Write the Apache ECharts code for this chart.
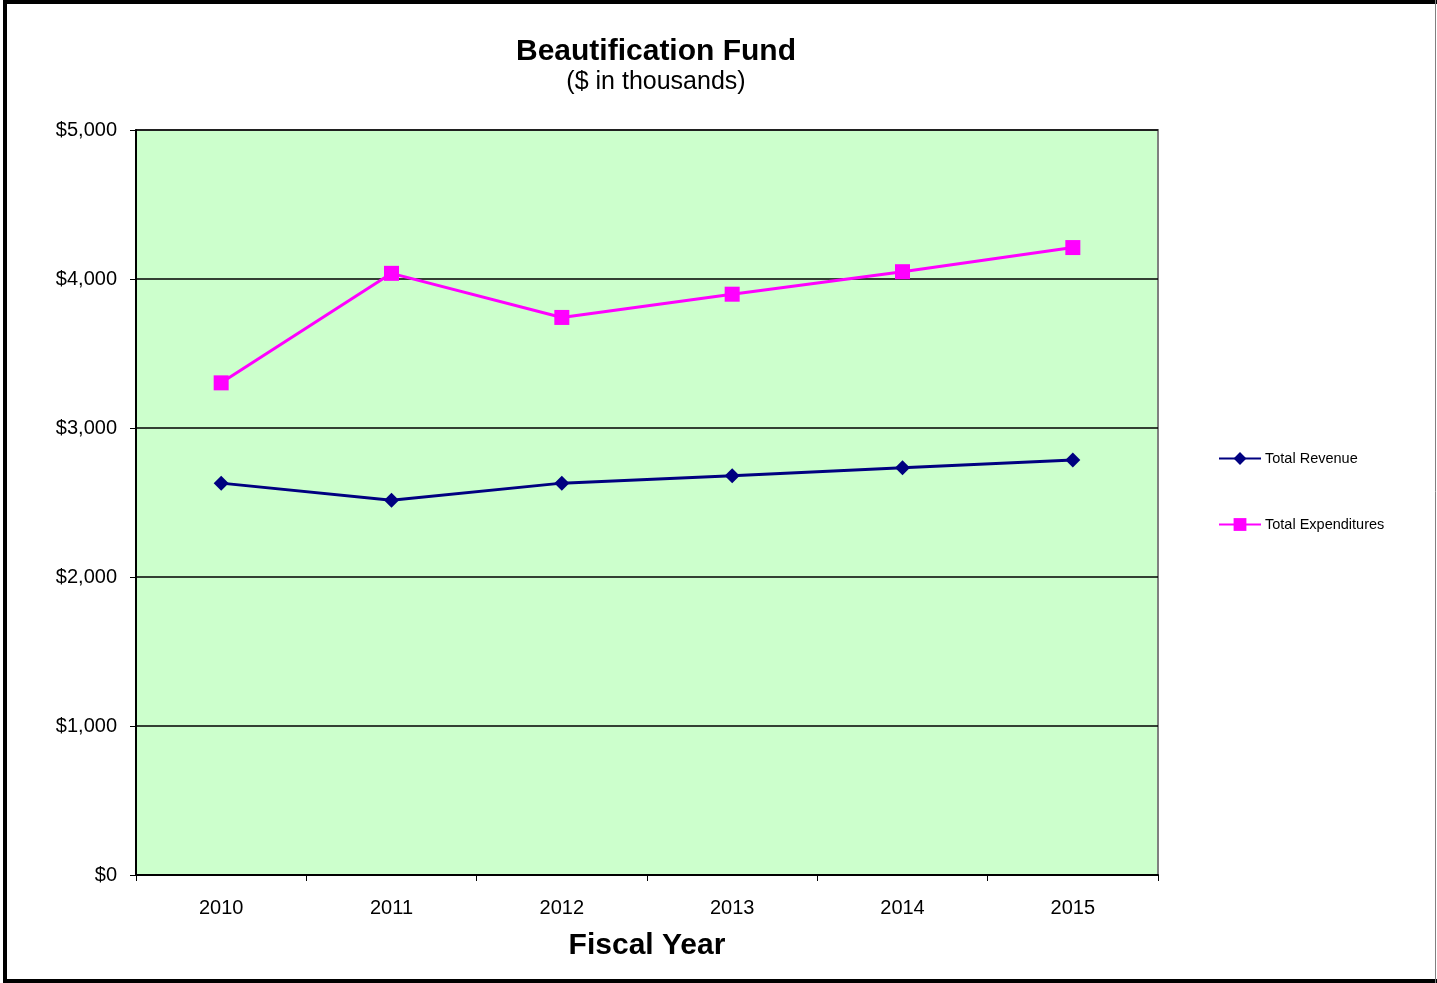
<!DOCTYPE html>
<html>
<head>
<meta charset="utf-8">
<style>
  html, body { margin: 0; padding: 0; background: #ffffff; }
  #chart { width: 1437px; height: 983px; }
</style>
<script src="https://cdn.jsdelivr.net/npm/echarts@6/dist/echarts.min.js"></script>
</head>
<body>
<div id="chart"></div>
<script>
// Fiscal years on the category axis
const years = ['2010', '2011', '2012', '2013', '2014', '2015'];
// Values in thousands of dollars
const totalRevenue = [2630, 2515, 2630, 2680, 2733, 2786];
const totalExpenditures = [3303, 4038, 3742, 3898, 4049, 4211];
// Value axis ticks
const yTicks = [0, 1000, 2000, 3000, 4000, 5000];

const font = 'Liberation Sans, Arial, sans-serif';

const chart = echarts.init(document.getElementById('chart'), null, { renderer: 'canvas' });

chart.setOption({
  backgroundColor: '#ffffff',
  animation: false,
  textStyle: { fontFamily: font, color: '#000' },
  title: {
    text: 'Beautification Fund',
    subtext: '($ in thousands)',
    left: 651,
    textAlign: 'center',
    top: 32,
    itemGap: 3,
    textStyle: { fontFamily: font, fontSize: 30, fontWeight: 'bold', color: '#000' },
    subtextStyle: { fontFamily: font, fontSize: 25, color: '#000' }
  },
  legend: {
    orient: 'vertical',
    left: 1213,
    top: 446,
    itemWidth: 42,
    itemHeight: 16,
    itemGap: 51,
    textStyle: { fontFamily: font, fontSize: 14.5, color: '#000', padding: [0, 0, 0, -1] },
    data: ['Total Revenue', 'Total Expenditures']
  },
  grid: {
    left: 136,
    top: 130,
    width: 1022,
    height: 745,
    show: true,
    backgroundColor: '#CCFFCC',
    borderColor: '#808080',
    borderWidth: 2
  },
  xAxis: {
    type: 'category',
    data: years,
    boundaryGap: true,
    name: 'Fiscal Year',
    nameLocation: 'middle',
    nameGap: 56,
    nameTextStyle: { fontFamily: font, fontSize: 30, fontWeight: 'bold', color: '#000' },
    axisLine: { lineStyle: { color: '#000', width: 2 } },
    axisTick: { show: true, length: 6, lineStyle: { color: '#000', width: 1 } },
    axisLabel: { fontFamily: font, fontSize: 20, color: '#000', margin: 23 },
    splitLine: { show: false }
  },
  yAxis: {
    type: 'value',
    min: yTicks[0],
    max: yTicks[yTicks.length - 1],
    interval: 1000,
    axisLine: { show: true, lineStyle: { color: '#000', width: 2 } },
    axisTick: { show: true, length: 6, lineStyle: { color: '#000', width: 1 } },
    axisLabel: {
      fontFamily: font, fontSize: 20, color: '#000', margin: 19,
      formatter: v => '$' + v.toLocaleString('en-US')
    },
    splitLine: { show: true, lineStyle: { color: '#000', width: 1.5 } }
  },
  series: [
    {
      name: 'Total Revenue',
      type: 'line',
      data: totalRevenue,
      symbol: 'diamond',
      symbolSize: 15,
      lineStyle: { color: '#000080', width: 3 },
      itemStyle: { color: '#000080' },
      z: 3
    },
    {
      name: 'Total Expenditures',
      type: 'line',
      data: totalExpenditures,
      symbol: 'rect',
      symbolSize: 15,
      lineStyle: { color: '#FF00FF', width: 3 },
      itemStyle: { color: '#FF00FF' },
      z: 3
    }
  ],
  graphic: [
    {
      type: 'rect',
      silent: true,
      shape: { x: 5, y: 2, width: 1440, height: 979 },
      style: { fill: null, stroke: '#000', lineWidth: 4 },
      z: 100
    },
    {
      type: 'line',
      silent: true,
      shape: { x1: 1435.5, y1: 0, x2: 1435.5, y2: 983 },
      style: { stroke: '#808080', lineWidth: 1 },
      z: 100
    }
  ]
});
</script>
</body>
</html>
